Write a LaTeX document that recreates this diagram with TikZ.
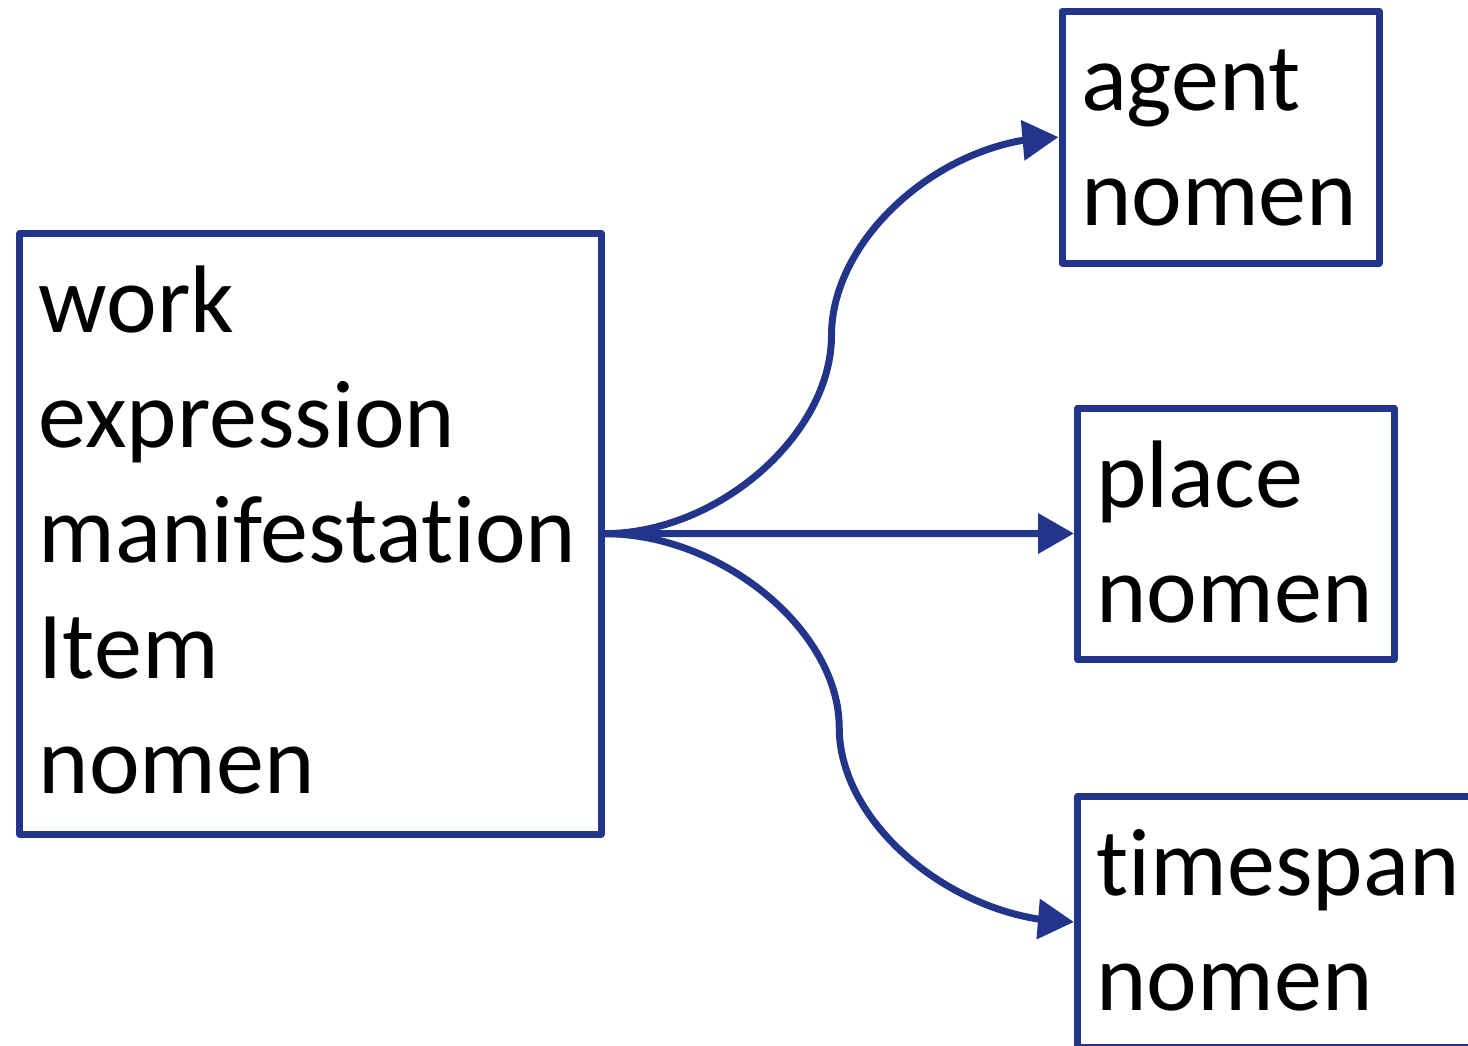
\documentclass[tikz,border=0pt]{standalone}
\usepackage{fontspec}
\setmainfont{Carlito}[Ligatures={NoCommon,NoContextual}]
\usetikzlibrary{arrows.meta,bending,calc}
\definecolor{fmblue}{RGB}{34,53,138}
\begin{document}
\begin{tikzpicture}[x=1pt,y=-1pt,
  entity/.style={draw=fmblue, line width=7pt, line join=round, anchor=north west,
    align=left, inner xsep=19pt, inner ysep=0pt,
    font=\fontsize{96}{115.3}\selectfont, text height=99pt},
  conn/.style={draw=fmblue, line width=7pt, -{Triangle[length=36pt,width=39pt]}}]
\useasboundingbox (0,0) rectangle (1468,1046);
\clip (0,0) rectangle (1468,1046);
\node[entity, text width=543.2pt, text depth=501.7pt] (fm) at (16.3,229.8)
  {work\\expression\\manifestation\\Item\\nomen};
\node[entity, text width=279pt, text depth=152.8pt] (agent) at (1058.5,7.7) {agent\\nomen};
\node[entity, text width=278.5pt, text depth=152pt] (place) at (1074,404.5) {place\\nomen};
\node[entity, text width=376.5pt, text depth=152pt] (time) at (1074,793) {timespan\\nomen};
% top connector
\coordinate (a1) at ($(fm.east)!0.25!(agent.west)$);
\coordinate (a2) at ($(fm.east)!0.5!(agent.west)$);
\coordinate (a3) at ($(fm.east)!0.75!(agent.west)$);
\draw[conn] (fm.east) .. controls (a1 |- fm.east) and (a2 |- a1) .. (a2)
  .. controls (a2 |- a3) and (a3 |- agent.west) .. (agent.west);
% middle connector
\draw[conn] (fm.east) -- (place.west);
% bottom connector
\coordinate (t1) at ($(fm.east)!0.25!(time.west)$);
\coordinate (t2) at ($(fm.east)!0.5!(time.west)$);
\coordinate (t3) at ($(fm.east)!0.75!(time.west)$);
\draw[conn] (fm.east) .. controls (t1 |- fm.east) and (t2 |- t1) .. (t2)
  .. controls (t2 |- t3) and (t3 |- time.west) .. (time.west);
\end{tikzpicture}
\end{document}
